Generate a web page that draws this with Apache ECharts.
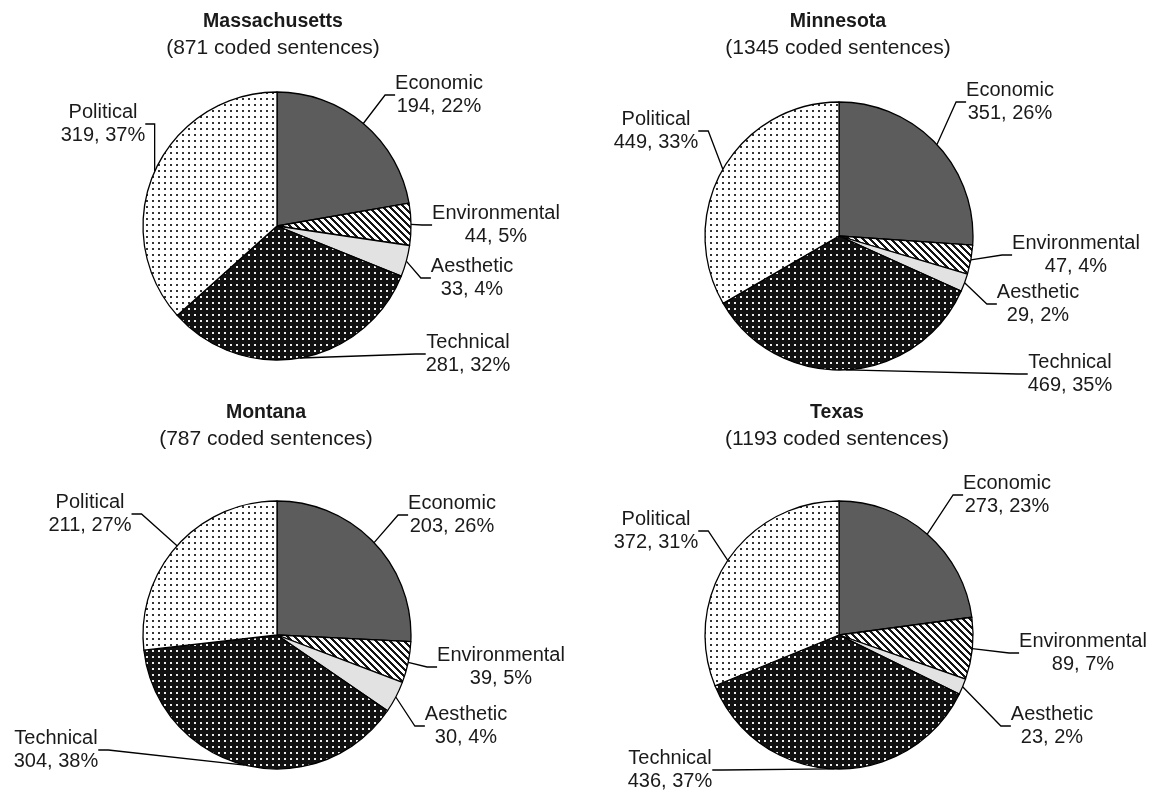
<!DOCTYPE html>
<html><head><meta charset="utf-8">
<script src="https://cdn.jsdelivr.net/npm/echarts@6/dist/echarts.min.js"></script>
<style>html,body{margin:0;padding:0;background:#fff}#c{width:1151px;height:792px}</style>
</head><body><div id="c"></div>
<script>
// ---- data ----
const categories = ['Economic', 'Environmental', 'Aesthetic', 'Technical', 'Political'];
const states = ['Massachusetts', 'Minnesota', 'Montana', 'Texas'];
const sentenceTotals = [871, 1345, 787, 1193];
const massachusetts = [194, 44, 33, 281, 319];
const minnesota = [351, 47, 29, 469, 449];
const montana = [203, 39, 30, 304, 211];
const texas = [273, 89, 23, 436, 372];
const stateValues = [massachusetts, minnesota, montana, texas];

// ---- layout (styling only) ----
const pieCenters = [[277, 226], [839, 236], [277, 635], [839, 635]];
const pieRadius = 134;
const titleX = [273, 838, 266, 837];
const titleTop = [12, 12, 403, 403];
const labelPos = [
  [[439, 95], [496, 225], [472, 278], [468, 354], [103, 124]],
  [[1010, 102], [1076, 255], [1038, 304], [1070, 374], [656, 131]],
  [[452, 515], [501, 667], [466, 726], [56, 750], [90, 514]],
  [[1007, 495], [1083, 653], [1052, 726], [670, 770], [656, 531]]
];

function tile(n, fn) {
  const c = document.createElement('canvas');
  c.width = n; c.height = n;
  const g = c.getContext('2d');
  fn(g, n);
  return c;
}
const stripes = tile(7, (g, n) => {
  const img = g.createImageData(n, n);
  for (let y = 0; y < n; y++) for (let x = 0; x < n; x++) {
    const on = (((x - y) % n) + n) % n < 3;
    const v = on ? 20 : 255, i = (y * n + x) * 4;
    img.data[i] = img.data[i + 1] = img.data[i + 2] = v; img.data[i + 3] = 255;
  }
  g.putImageData(img, 0, 0);
});
const lightDots = tile(6, (g, n) => {
  g.fillStyle = '#ffffff'; g.fillRect(0, 0, n, n);
  g.fillStyle = '#333333'; g.fillRect(2, 2, 2, 2);
});
const darkDots = tile(6, (g, n) => {
  g.fillStyle = '#111111'; g.fillRect(0, 0, n, n);
  g.fillStyle = '#eeeeee'; g.fillRect(2, 2, 2, 2);
});
const sliceFills = [
  '#5c5c5c',
  { image: stripes, repeat: 'repeat' },
  '#e2e2e2',
  { image: darkDots, repeat: 'repeat' },
  { image: lightDots, repeat: 'repeat' }
];

const chart = echarts.init(document.getElementById('c'), null, { renderer: 'canvas' });
const font = '"Liberation Sans", Arial, sans-serif';

const option = {
  backgroundColor: '#ffffff',
  animation: false,
  title: states.map((s, i) => ({
    text: s,
    subtext: '(' + sentenceTotals[i] + ' coded sentences)',
    left: titleX[i],
    top: titleTop[i],
    textAlign: 'center',
    padding: 0,
    itemGap: 6,
    textStyle: { fontFamily: font, fontSize: 19.5, fontWeight: 'bold', color: '#1a1a1a' },
    subtextStyle: { fontFamily: font, fontSize: 21, color: '#1a1a1a' }
  })),
  series: stateValues.map((vals, si) => ({
    type: 'pie',
    center: pieCenters[si],
    radius: pieRadius,
    startAngle: 90,
    clockwise: true,
    percentPrecision: 0,
    avoidLabelOverlap: false,
    silent: true,
    itemStyle: { borderColor: '#000', borderWidth: 1.3 },
    label: {
      show: true,
      position: 'outside',
      formatter: '{b}\n{c}, {d}%',
      fontFamily: font,
      fontSize: 20,
      lineHeight: 23.5,
      color: '#1a1a1a',
      align: 'center'
    },
    labelLine: { show: true, length: 8, length2: 10, lineStyle: { color: '#000', width: 1.3 } },
    labelLayout: function (p) {
      const pos = labelPos[p.seriesIndex][p.dataIndex];
      return { x: pos[0], y: pos[1], align: 'center', verticalAlign: 'middle' };
    },
    data: categories.map((c, k) => ({
      name: c,
      value: vals[k],
      itemStyle: { color: sliceFills[k] }
    }))
  }))
};
chart.setOption(option);
</script>
</body></html>
